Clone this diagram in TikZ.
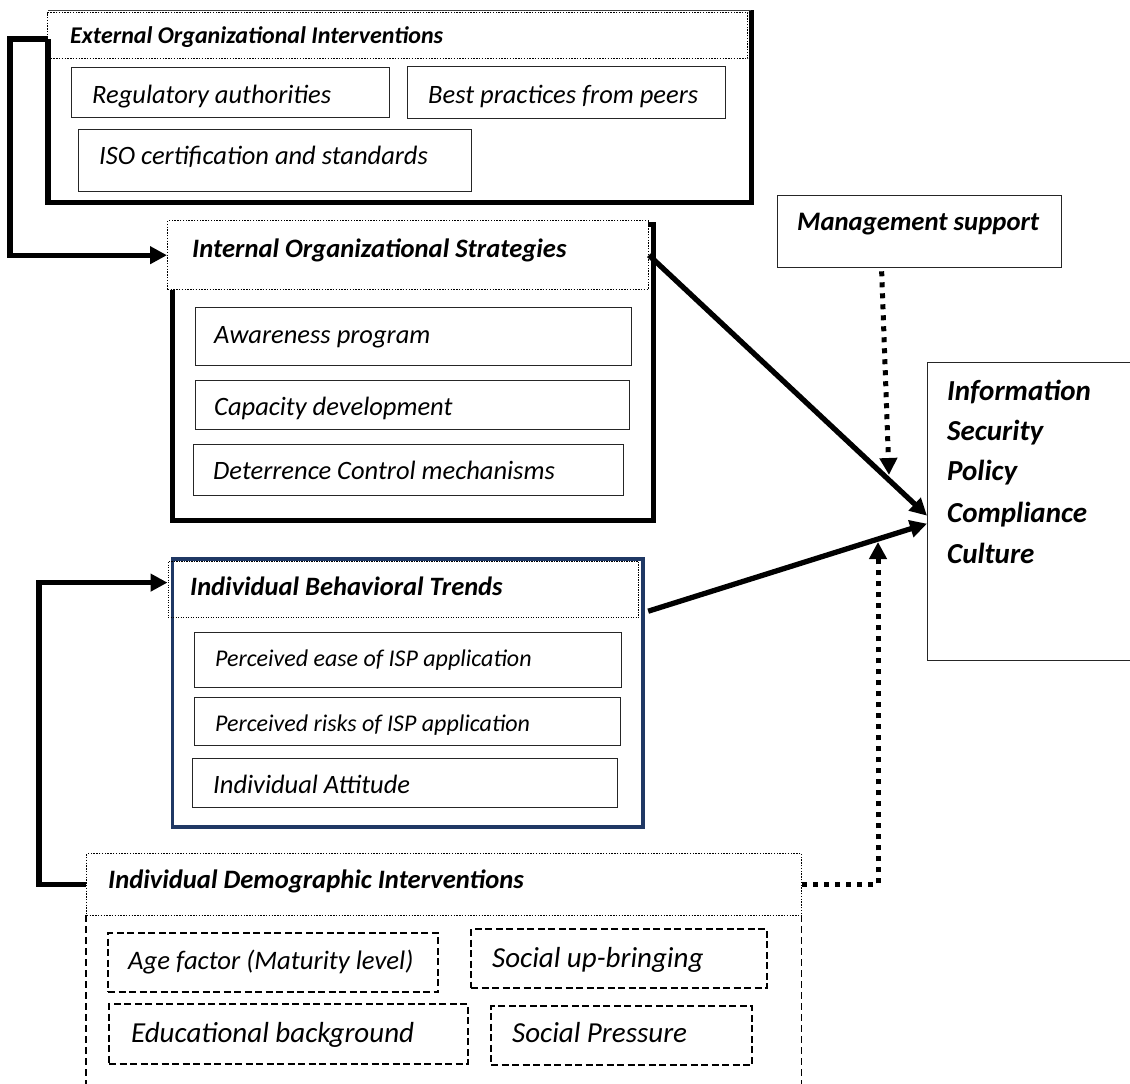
\documentclass[tikz,border=0pt]{standalone}
\usepackage{fontspec}
\setmainfont{Carlito}
\usetikzlibrary{arrows.meta}
\definecolor{navy}{HTML}{1F3864}
\begin{document}
\begin{tikzpicture}[x=1pt,y=-1pt,
  sz/.style 2 args={minimum width=#1pt, minimum height=#2pt, anchor=north west, inner sep=0pt},
  hdr/.style={draw, line width=1.4pt, dash pattern=on 1.4pt off 1.4pt, fill=white},
  itembox/.style={draw=black!85, line width=1.3pt},
  dashbox/.style={draw, line width=2.2pt, dash pattern=on 7pt off 3.5pt},
  thickln/.style={line width=5.3pt, line join=miter},
  dotconn/.style={line width=5pt, dash pattern=on 5pt off 6pt},
  arr/.style={-{Triangle[length=17pt,width=17pt]}},
  ttl/.style={anchor=base west, inner sep=0pt, font=\fontsize{#1}{#1}\selectfont\bfseries\itshape},
  itm/.style={anchor=base west, inner sep=0pt, font=\fontsize{#1}{#1}\selectfont\itshape},
]
\clip (0,0) rectangle (1130,1084);
\fill[white] (0,0) rectangle (1130,1084);

% ---------- External Organizational Interventions ----------
\node[sz={703}{192}] (ext) at (48,10) {};
\node[hdr, sz={700}{46}] (exthdr) at (47,12) {};
\draw[thickln] ([yshift=-29pt]ext.north west) |- (ext.south east) -- (ext.north east);
\draw[line width=1pt, black!75] (ext.north west) -- (ext.north east);
\node[ttl=24] (extt) at (70,43) {External Organizational Interventions};
\node[itembox, sz={318}{50}] (reg) at (71,67) {};
\node[itm=26.5] (regt) at (92,103) {Regulatory authorities};
\node[itembox, sz={318}{52}] (best) at (407,66) {};
\node[itm=26.5] (bestt) at (428,103) {Best practices from peers};
\node[itembox, sz={393}{62}] (iso) at (78,129) {};
\node[itm=26.5] (isot) at (99,164) {ISO certification and standards};

% ---------- Internal Organizational Strategies ----------
\node[thickln, draw, sz={481}{296}] (int) at (170,222) {};
\node[hdr, sz={480.5}{69}] (inthdr) at (167,220) {};
\node[ttl=26.6] (intt) at (192,257) {Internal Organizational Strategies};
\node[itembox, sz={436}{58}] (aw) at (195,307) {};
\node[itm=26.5] (awt) at (214,343) {Awareness program};
\node[itembox, sz={434}{49}] (cap) at (195,380) {};
\node[itm=26.5] (capt) at (214,415) {Capacity development};
\node[itembox, sz={430}{51}] (det) at (193,444) {};
\node[itm=26.5] (dett) at (213,479) {Deterrence Control mechanisms};

% ---------- Management support ----------
\node[itembox, sz={284}{72}] (mgmt) at (777,195) {};
\node[ttl=26.7] (mgmtt) at (797,230) {Management support};

% ---------- ISP Compliance Culture ----------
\node[itembox, sz={220}{298}] (isp) at (927,362) {};
\node[ttl=29] (isp1) at (947,400) {Information};
\node[ttl=29] (isp2) at (947,440) {Security};
\node[ttl=29] (isp3) at (947,480) {Policy};
\node[ttl=29] (isp4) at (947,522) {Compliance};
\node[ttl=29] (isp5) at (947,563) {Culture};

% ---------- Individual Behavioral Trends ----------
\node[draw=navy, line width=3.5pt, sz={470.5}{268}] (ibt) at (170.5,557) {};
\node[draw, line width=1.2pt, dash pattern=on 1.2pt off 1.3pt, sz={470.5}{56}] (ibthdr) at (167.5,561) {};
\node[ttl=26.5] (ibtt) at (190,595) {Individual Behavioral Trends};
\node[itembox, sz={427}{55}] (pe) at (194,632) {};
\node[itm=24] (pet) at (215,666) {Perceived ease of ISP application};
\node[itembox, sz={426}{48}] (pr) at (194,697) {};
\node[itm=24] (prt) at (215,731) {Perceived risks of ISP application};
\node[itembox, sz={425}{49}] (ia) at (192,758) {};
\node[itm=26.5] (iat) at (213,793) {Individual Attitude};

% ---------- Individual Demographic Interventions ----------
\node[hdr, sz={715}{62}] (dem) at (86,853) {};
\node[sz={715}{200}] (dembody) at (86,915) {};
\draw[line width=1.6pt, dash pattern=on 7pt off 4pt] (dembody.north west) -- (dembody.south west);
\draw[line width=1.6pt, dash pattern=on 7pt off 4pt] (dembody.north east) -- (dembody.south east);
\node[ttl=26.6] (demt) at (108,888) {Individual Demographic Interventions};
\node[dashbox, sz={330}{59}] (age) at (107,932) {};
\node[itm=26.7] (aget) at (128,969) {Age factor (Maturity level)};
\node[dashbox, sz={296}{59}] (soc) at (470,928) {};
\node[itm=29] (soct) at (492,967) {Social up-bringing};
\node[dashbox, sz={359}{60}] (edu) at (108,1003) {};
\node[itm=29] (edut) at (131,1042) {Educational background};
\node[dashbox, sz={261}{59}] (sp) at (490,1005) {};
\node[itm=29] (spt) at (512,1042) {Social Pressure};

% ---------- Connectors ----------
\coordinate (mtip) at (889,475);
\coordinate (dtip) at (878,542);
\draw[thickln, arr] ([yshift=-29pt]ext.north west) -- ++(-38,0) |- (inthdr.west);
\draw[thickln, arr] (inthdr.east) -- ([yshift=-4pt]isp.west);
\draw[thickln, arr] ([xshift=9pt,yshift=7pt]ibthdr.south east) -- ([yshift=-12pt]isp.west);
\draw[dotconn, arr] ([xshift=-38pt,yshift=-3pt]mgmt.south) -- (mtip);
\draw[dotconn, arr] (dem.east) -| (dtip);
\draw[thickln, arr] (dem.west) -- ++(-47,0) |- ([yshift=7pt]ibthdr.west);
\end{tikzpicture}
\end{document}
